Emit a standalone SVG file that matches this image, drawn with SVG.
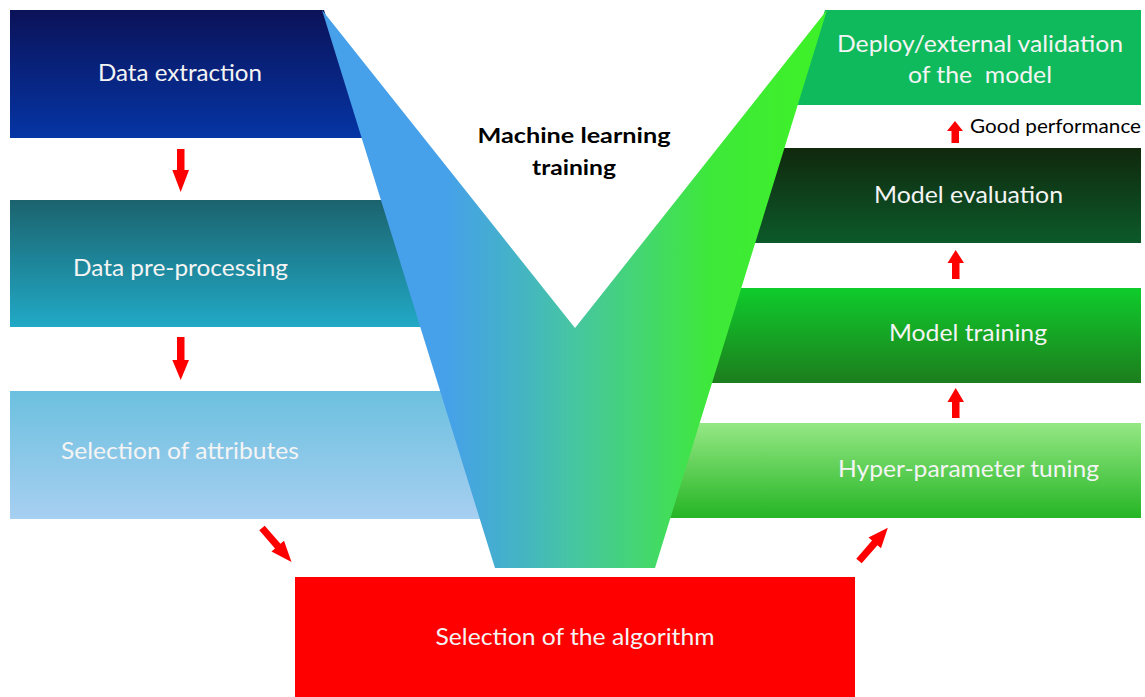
<svg xmlns="http://www.w3.org/2000/svg" width="1145" height="697" viewBox="0 0 1145 697">
  <defs>
    <linearGradient id="gL1" x1="0" y1="0" x2="0" y2="1">
      <stop offset="0" stop-color="#0b1258"/>
      <stop offset="1" stop-color="#0535a5"/>
    </linearGradient>
    <linearGradient id="gL2" x1="0" y1="0" x2="0" y2="1">
      <stop offset="0" stop-color="#1b636e"/>
      <stop offset="1" stop-color="#21a9c6"/>
    </linearGradient>
    <linearGradient id="gL3" x1="0" y1="0" x2="0" y2="1">
      <stop offset="0" stop-color="#6cc0df"/>
      <stop offset="1" stop-color="#a7cff1"/>
    </linearGradient>
    <linearGradient id="gR2" x1="0" y1="0" x2="0" y2="1">
      <stop offset="0" stop-color="#10280d"/>
      <stop offset="1" stop-color="#0c5a2a"/>
    </linearGradient>
    <linearGradient id="gR3" x1="0" y1="0" x2="0" y2="1">
      <stop offset="0" stop-color="#0fcc2c"/>
      <stop offset="1" stop-color="#1d7d1d"/>
    </linearGradient>
    <linearGradient id="gR4" x1="0" y1="0" x2="0" y2="1">
      <stop offset="0" stop-color="#95e884"/>
      <stop offset="1" stop-color="#25b525"/>
    </linearGradient>
    <linearGradient id="gV" gradientUnits="userSpaceOnUse" x1="445" y1="0" x2="800" y2="0">
      <stop offset="0" stop-color="#46a0ea"/>
      <stop offset="0.211" stop-color="#44b4c4"/>
      <stop offset="0.366" stop-color="#46c6a0"/>
      <stop offset="0.549" stop-color="#44d672"/>
      <stop offset="0.746" stop-color="#3ee83a"/>
      <stop offset="1" stop-color="#3ef02a"/>
    </linearGradient>
  </defs>
  <style>
    .label { font-family: Lato, "Open Sans", sans-serif; font-size: 23px; fill: #f4f4f4; text-anchor: middle; }
    .title { font-family: Lato, "Open Sans", sans-serif; font-size: 21px; font-weight: bold; fill: #000; text-anchor: middle; }
    .note { font-family: Lato, "Open Sans", sans-serif; font-size: 19px; fill: #000; }
    .arrow { fill: #ff0000; }
  </style>

  <rect x="0" y="0" width="1145" height="697" fill="#ffffff"/>

  <!-- left column -->
  <g id="data-extraction">
    <polygon points="10,10 324,10 364,138 10,138" fill="url(#gL1)"/>
    <text class="label" x="180" y="81" textLength="164" lengthAdjust="spacingAndGlyphs">Data extraction</text>
  </g>
  <g id="data-preprocessing">
    <polygon points="10,200 383,200 422,327 10,327" fill="url(#gL2)"/>
    <text class="label" x="180.5" y="276" textLength="215" lengthAdjust="spacingAndGlyphs">Data pre-processing</text>
  </g>
  <g id="selection-attributes">
    <polygon points="10,391 442,391 482,519 10,519" fill="url(#gL3)"/>
    <text class="label" x="180" y="459" textLength="238" lengthAdjust="spacingAndGlyphs">Selection of attributes</text>
  </g>

  <!-- right column -->
  <g id="deploy">
    <polygon points="825,10 1141,10 1141,105 796,105" fill="#0fba5c"/>
    <text class="label" x="980" y="52" textLength="286" lengthAdjust="spacingAndGlyphs">Deploy/external validation</text>
    <text class="label" x="980" y="83" textLength="144" lengthAdjust="spacingAndGlyphs" xml:space="preserve">of the  model</text>
  </g>
  <g id="model-evaluation">
    <polygon points="782,148 1141,148 1141,243 753,243" fill="url(#gR2)"/>
    <text class="label" x="968.5" y="203" textLength="189" lengthAdjust="spacingAndGlyphs">Model evaluation</text>
  </g>
  <g id="model-training">
    <polygon points="739,288 1141,288 1141,383 710,383" fill="url(#gR3)"/>
    <text class="label" x="968" y="341" textLength="158" lengthAdjust="spacingAndGlyphs">Model training</text>
  </g>
  <g id="hyperparameter-tuning">
    <polygon points="698,423 1141,423 1141,518 668,518" fill="url(#gR4)"/>
    <text class="label" x="968.5" y="477" textLength="261" lengthAdjust="spacingAndGlyphs">Hyper-parameter tuning</text>
  </g>

  <!-- central V funnel -->
  <g id="ml-training">
    <polygon points="322,10 575,328 827,10 655,568 495,568" fill="url(#gV)"/>
    <text class="title" x="574" y="143" textLength="193" lengthAdjust="spacingAndGlyphs">Machine learning</text>
    <text class="title" x="574" y="175" textLength="84" lengthAdjust="spacingAndGlyphs">training</text>
  </g>

  <!-- bottom box -->
  <g id="algorithm-selection">
    <rect x="295" y="577" width="560" height="120" fill="#fe0000"/>
    <text class="label" x="575" y="645" textLength="279" lengthAdjust="spacingAndGlyphs">Selection of the algorithm</text>
  </g>

  <!-- block arrows -->
  <g id="connectors">
    <path class="arrow" d="M177,149 H184.5 V170 H189 L180.7,192 L172.3,170 H177 Z"/>
    <path class="arrow" d="M177,337 H184.5 V360 H189 L180.7,380 L172.3,360 H177 Z"/>
    <path class="arrow" transform="translate(262,528) rotate(-41)" d="M-3.6,0 H3.6 V24 H8.3 L0,45 L-8.3,24 H-3.6 Z"/>
    <path class="arrow" transform="translate(859,561) rotate(221)" d="M-3.6,0 H3.6 V24 H8.3 L0,44 L-8.3,24 H-3.6 Z"/>
    <path class="arrow" d="M952,418 H959.5 V402 H964 L955.7,388 L947.5,402 H952 Z"/>
    <path class="arrow" d="M952,279 H959.5 V263 H964 L955.7,250 L947.5,263 H952 Z"/>
    <path class="arrow" d="M951.5,143 H959 V131 H963 L955,121 L947,131 H951.5 Z"/>
    <text class="note" x="970" y="133" textLength="171" lengthAdjust="spacingAndGlyphs">Good performance</text>
  </g>
</svg>
